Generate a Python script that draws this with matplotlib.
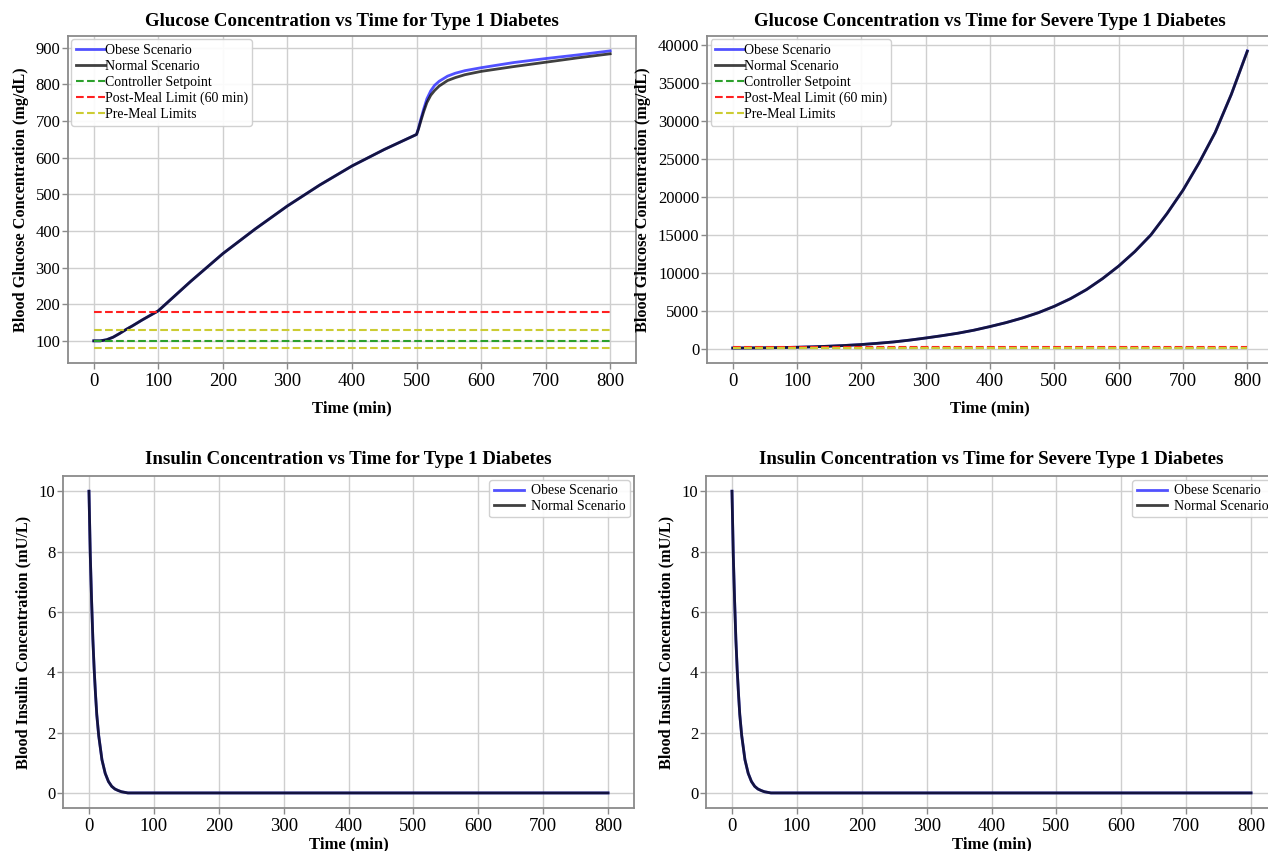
import matplotlib
matplotlib.use("Agg")
import matplotlib.pyplot as plt

plt.rcParams["font.family"] = ["Liberation Serif", "DejaVu Serif"]

# glucose response, moderate case (min, mg/dL)
t_glu = [0, 10, 20, 30, 40, 50, 60, 75, 100, 125, 150, 175, 200, 250, 300, 350, 400, 450, 500,
         503, 507, 511, 516, 522, 528, 535, 548, 560, 575, 600, 650, 700, 750, 800]
glu_normal = [100, 100, 103, 110, 120, 131, 141, 157, 182, 222, 262, 300, 338, 405, 468, 525,
              577, 622, 663, 678, 702, 725, 750, 770, 783, 795, 810, 818, 826, 835, 848, 860,
              872, 883]
glu_obese = [100, 100, 103, 110, 120, 131, 141, 157, 182, 222, 262, 300, 338, 405, 468, 525,
             577, 622, 663, 680, 707, 732, 760, 782, 797, 808, 822, 830, 837, 845, 859, 870,
             880, 891]

# glucose response, severe case
t_sev = [0, 25, 50, 75, 100, 125, 150, 175, 200, 225, 250, 275, 300, 325, 350, 375, 400,
         425, 450, 475, 500, 525, 550, 575, 600, 625, 650, 675, 700, 725, 750, 775, 800]
sev_normal = [100, 112, 130, 160, 200, 260, 340, 440, 560, 720, 900, 1140, 1420, 1720, 2050,
              2450, 2930, 3450, 4050, 4750, 5600, 6600, 7800, 9250, 10900, 12800, 15000,
              17800, 20900, 24500, 28500, 33500, 39200]
sev_obese = [100, 112, 130, 160, 200, 260, 340, 440, 560, 720, 900, 1140, 1420, 1720, 2050,
             2450, 2930, 3450, 4050, 4750, 5600, 6600, 7800, 9250, 10900, 12800, 15000,
             17800, 20900, 24500, 28500, 33500, 39250]

# insulin clearance (min, mU/L)
t_ins = [0, 2, 4, 6, 8, 10, 12, 15, 20, 25, 30, 35, 40, 45, 50, 55, 60, 800]
ins_normal = [10, 7.9, 6.4, 5.1, 4.1, 3.3, 2.6, 1.9, 1.1, 0.65, 0.38, 0.22, 0.13, 0.08,
              0.04, 0.02, 0, 0]
ins_obese = ins_normal

# reference levels (mg/dL)
t_span = [0, 800]
setpoint = 100
post_meal_limit = 180
pre_meal_limits = [80, 130]

GRID = "#cfcfcf"
EDGE = "#8a8a8a"


def style_axes(ax):
    ax.grid(True, color=GRID, linewidth=1.0)
    ax.set_axisbelow(True)
    for sp in ax.spines.values():
        sp.set_color(EDGE)
        sp.set_linewidth(1.3)
    ax.tick_params(colors=EDGE, labelcolor="black", length=4, width=1)
    ax.tick_params(axis="x", labelsize=13.5)
    ax.tick_params(axis="y", labelsize=12, pad=1.5)
    ax.set_xticks(range(0, 801, 100))


def glucose_panel(ax, t, obese, normal, title):
    ax.plot(t, obese, color="#3333ff", alpha=0.85, lw=2, label="Obese Scenario")
    ax.plot(t, normal, color="black", alpha=0.75, lw=2, label="Normal Scenario")
    ax.plot(t_span, [setpoint] * 2, "--", color="#2ca02c", lw=1.5, label="Controller Setpoint")
    ax.plot(t_span, [post_meal_limit] * 2, "--", color="#ff2020", lw=1.5,
            label="Post-Meal Limit (60 min)")
    ax.plot(t_span, [pre_meal_limits[0]] * 2, "--", color="#cccc33", lw=1.5, label="Pre-Meal Limits")
    ax.plot(t_span, [pre_meal_limits[1]] * 2, "--", color="#cccc33", lw=1.5)
    style_axes(ax)
    ax.set_title(title, fontsize=13.6, fontweight="bold", pad=7)
    ax.set_xlabel("Time (min)", fontsize=12, fontweight="bold", labelpad=7)
    ax.set_ylabel("Blood Glucose Concentration (mg/dL)", fontsize=11.7, fontweight="bold",
                  labelpad=5)
    ax.legend(loc="upper left", fontsize=10, handlelength=2.1, handletextpad=0.0,
              labelspacing=0.22, borderpad=0.3, borderaxespad=0.25, framealpha=0.9)


def insulin_panel(ax, t, obese, normal, title):
    ax.plot(t, obese, color="#3333ff", alpha=0.85, lw=2, label="Obese Scenario")
    ax.plot(t, normal, color="black", alpha=0.75, lw=2, label="Normal Scenario")
    style_axes(ax)
    ax.set_title(title, fontsize=13.6, fontweight="bold", pad=9)
    ax.set_xlabel("Time (min)", fontsize=12, fontweight="bold", labelpad=1)
    ax.set_ylabel("Blood Insulin Concentration (mU/L)", fontsize=11.7, fontweight="bold",
                  labelpad=5)
    ax.legend(loc="upper right", fontsize=10, handlelength=2.2, handletextpad=0.5,
              labelspacing=0.2, borderpad=0.3, borderaxespad=0.3, framealpha=0.9)


fig = plt.figure(figsize=(12.68, 8.51), dpi=100)
ax_tl = fig.add_axes([0.0536, 0.5734, 0.448, 0.3843])
ax_tr = fig.add_axes([0.5576, 0.5734, 0.4464, 0.3843])
ax_bl = fig.add_axes([0.0497, 0.0505, 0.4503, 0.390])
ax_br = fig.add_axes([0.5568, 0.0505, 0.4503, 0.390])

glucose_panel(ax_tl, t_glu, glu_obese, glu_normal,
              "Glucose Concentration vs Time for Type 1 Diabetes")
glucose_panel(ax_tr, t_sev, sev_obese, sev_normal,
              "Glucose Concentration vs Time for Severe Type 1 Diabetes")
ax_tr.set_yticks(range(0, 40001, 5000))
insulin_panel(ax_bl, t_ins, ins_obese, ins_normal,
              "Insulin Concentration vs Time for Type 1 Diabetes")
insulin_panel(ax_br, t_ins, ins_obese, ins_normal,
              "Insulin Concentration vs Time for Severe Type 1 Diabetes")

fig.savefig("out.png", dpi=100)
